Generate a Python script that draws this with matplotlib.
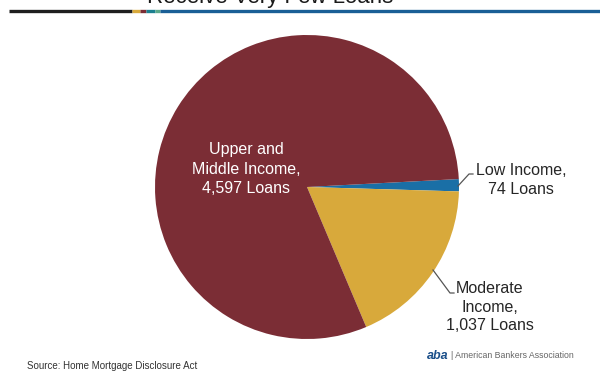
import matplotlib.pyplot as plt
from matplotlib.lines import Line2D

plt.rcParams['font.family'] = ['Liberation Sans', 'DejaVu Sans']

# Data
categories = ['Low Income', 'Moderate Income', 'Upper and Middle Income']
loans = [74, 1037, 4597]
colors = ['#1a6fa6', '#d8a93b', '#7b2d35']

W, H = 600, 371


def fx(px):
    return px / W


def fy(py):
    return 1 - py / H


fig = plt.figure(figsize=(6, 3.71), dpi=100)

# pie placed by pixel geometry: centre (307, 187), radius 152
cx, cy, r = 307, 187, 152
ax = fig.add_axes([fx(cx - r), fy(cy + r), 2 * r / W, 2 * r / H])
ax.pie(loans, colors=colors, startangle=3, counterclock=False,
       wedgeprops=dict(linewidth=0))
ax.set_xlim(-1, 1)
ax.set_ylim(-1, 1)
ax.set_aspect('equal')
ax.axis('off')

txt_kw = dict(fontsize=11.5, ha='center', va='center')

# labels
up = f"Upper and\nMiddle Income,\n{loans[2]:,} Loans"
fig.text(fx(246.5), fy(169), up, color='white', linespacing=1.4, **txt_kw)
low = f"Low Income,\n{loans[0]:,} Loans"
fig.text(fx(521), fy(180), low, color='#262626', linespacing=1.35, **txt_kw)
mod = f"Moderate\nIncome,\n{loans[1]:,} Loans"
fig.text(fx(490), fy(307), mod, color='#262626', linespacing=1.27, **txt_kw)

# leader lines
fig.add_artist(Line2D([fx(458), fx(469), fx(473)], [fy(186), fy(174), fy(174)],
                      color='#555555', lw=0.9))
fig.add_artist(Line2D([fx(433), fx(450), fx(454)], [fy(270), fy(293), fy(293)],
                      color='#555555', lw=0.9))

# title (cut off at top, as in the original slide)
fig.text(fx(270), fy(3), 'Receive Very Few Loans', fontsize=16, ha='center',
         va='baseline', color='#1a1a1a')

# coloured rule under the title
segments = [(9, 132, '#1f1f1f'), (132, 140, '#d8a93b'), (140, 146, '#7b2d35'),
            (146, 155, '#1a7f8f'), (155, 160, '#5aa88a'), (160, 600, '#1a5f96')]
for x0, x1, c in segments:
    fig.add_artist(Line2D([fx(x0), fx(x1)], [fy(10.5), fy(10.5)], color=c,
                          lw=2.4, solid_capstyle='butt'))

# footer
fig.text(fx(27), fy(366), 'Source: Home Mortgage Disclosure Act', fontsize=7,
         ha='left', va='center', color='#333333')
fig.text(fx(427), fy(356), 'aba', fontsize=9, fontweight='bold', style='italic',
         ha='left', va='center', color='#1a4f8a')
fig.text(fx(451), fy(356), '| American Bankers Association', fontsize=6.3,
         ha='left', va='center', color='#666666')

fig.savefig('out.png', dpi=100)
